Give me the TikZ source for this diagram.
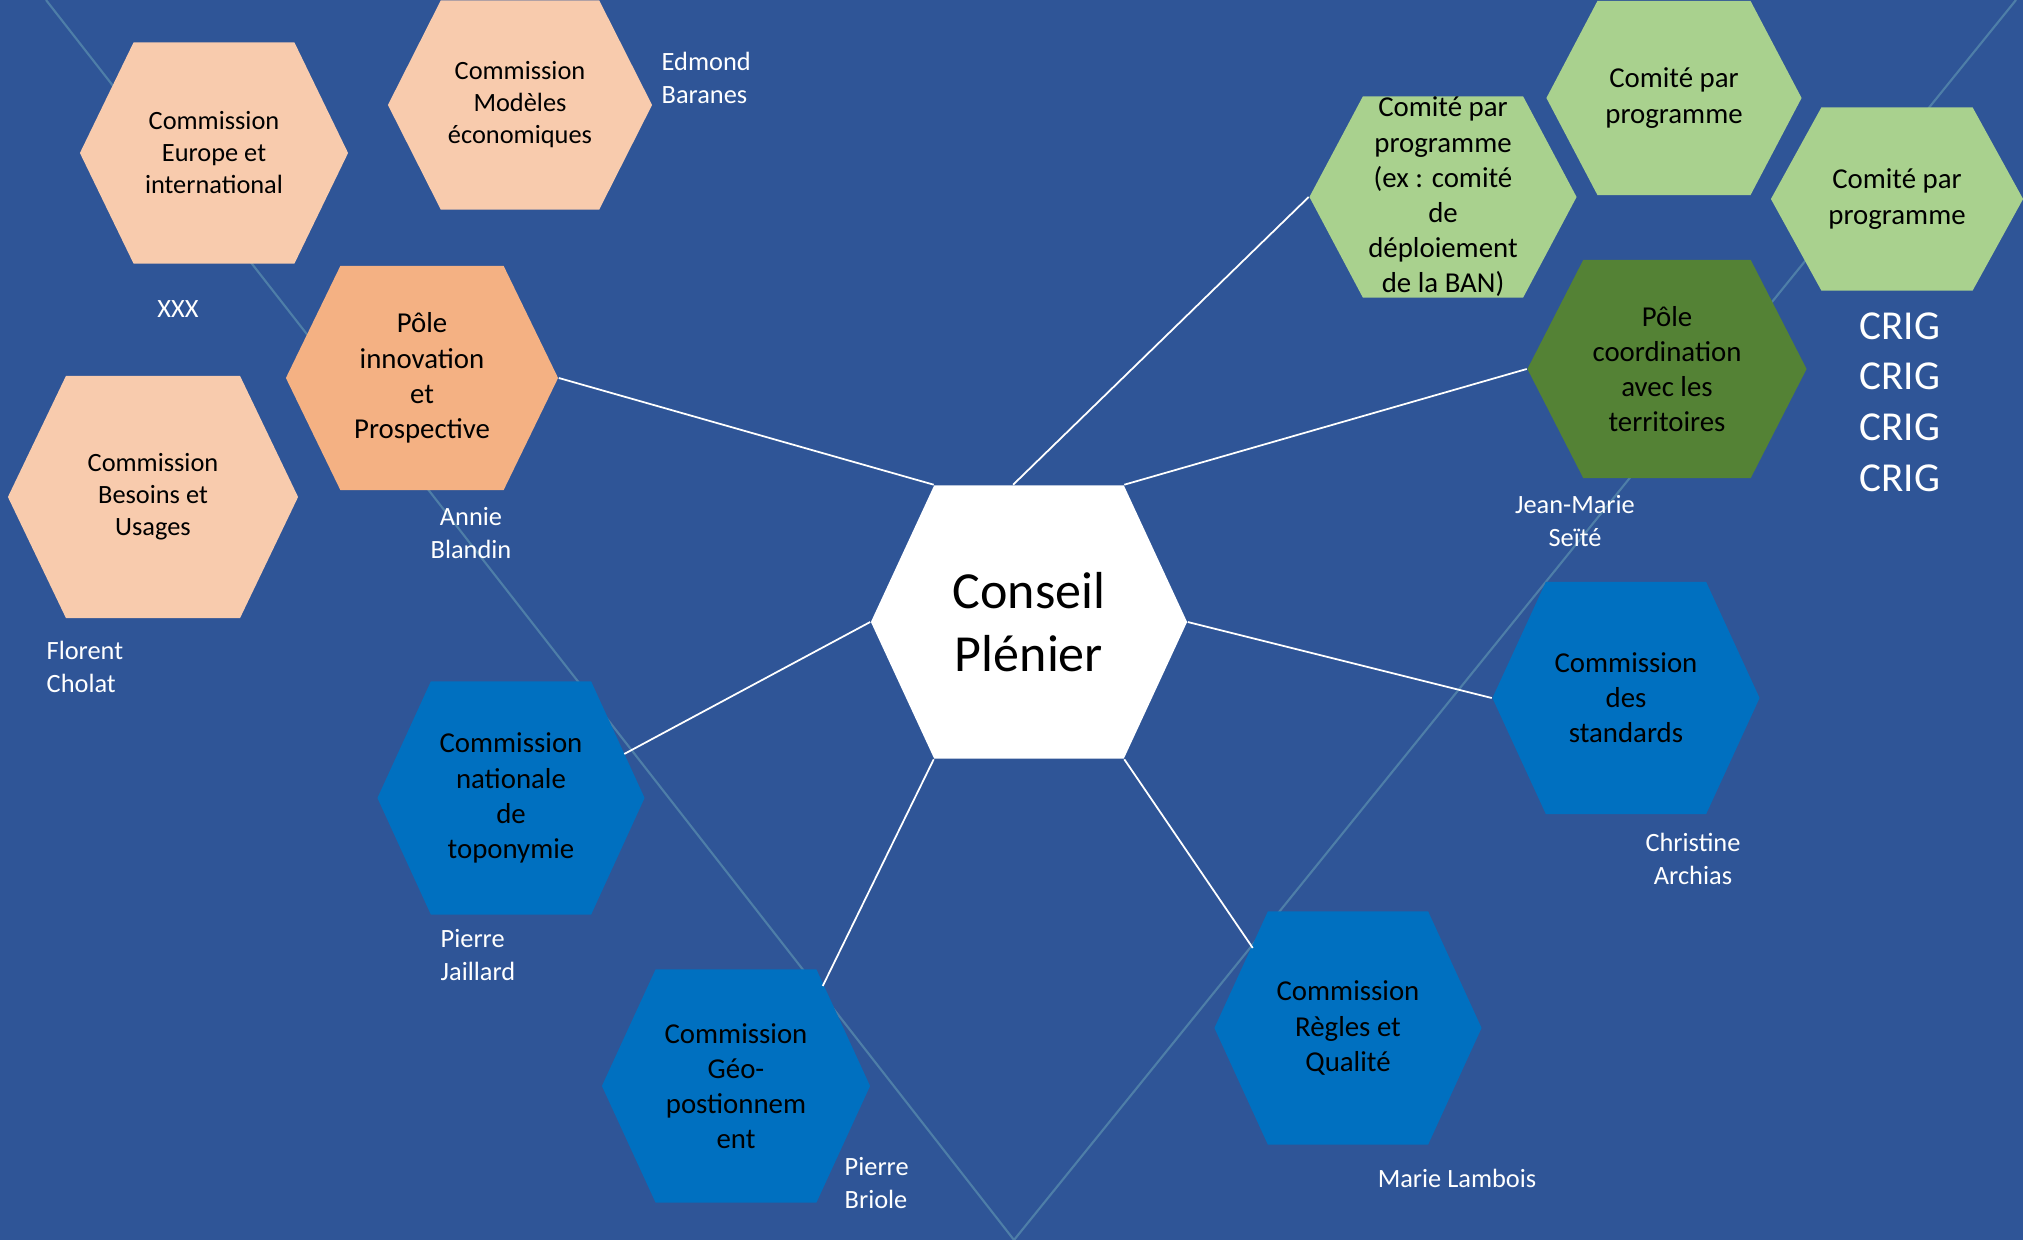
\documentclass[tikz,border=0pt]{standalone}
\usepackage{fontspec}
\setmainfont{Carlito}
\usetikzlibrary{calc}

\definecolor{bg}{RGB}{47,85,151}
\definecolor{guidecol}{RGB}{78,126,168}
\definecolor{peach}{RGB}{248,203,173}
\definecolor{orangepole}{RGB}{244,177,131}
\definecolor{lightgreen}{RGB}{169,209,142}
\definecolor{darkgreen}{RGB}{84,130,53}
\definecolor{bluecom}{RGB}{0,112,192}

\tikzset{
  hexa/.style={rectangle, inner sep=0pt, align=center, text=black,
    font=\fontsize{8.2}{10}\selectfont,
    path picture={\fill[#1] (path picture bounding box.west)
      -- ($(path picture bounding box.north west)!0.2!(path picture bounding box.north east)$)
      -- ($(path picture bounding box.north west)!0.8!(path picture bounding box.north east)$)
      -- (path picture bounding box.east)
      -- ($(path picture bounding box.south west)!0.8!(path picture bounding box.south east)$)
      -- ($(path picture bounding box.south west)!0.2!(path picture bounding box.south east)$)
      -- cycle;}},
  small/.style={font=\fontsize{7.5}{9.1}\selectfont},
  person/.style={text=white, inner sep=0pt, font=\fontsize{7.5}{9.2}\selectfont},
  link/.style={draw=white, line width=0.5pt},
  guide/.style={draw=guidecol, line width=0.6pt},
}

\begin{document}
\begin{tikzpicture}[x=0.01cm, y=-0.01cm]

\useasboundingbox (0,0) rectangle (2023,1240);
\fill[bg] (0,0) rectangle (2023,1240);
\draw[guide] (46,0) -- (1014,1240) -- (2016,0);

% pôle innovation
\node[hexa=peach, small, minimum width=2.68cm, minimum height=2.21cm] (eur) at (214,153) {Commission\\Europe et\\international};
\node[hexa=peach, small, minimum width=2.64cm, minimum height=2.09cm] (mod) at (520,105) {Commission\\Modèles\\économiques};
\node[hexa=orangepole, minimum width=2.72cm, minimum height=2.24cm] (pin) at (422,378) {Pôle\\innovation\\et\\Prospective};
\node[hexa=peach, small, minimum width=2.90cm, minimum height=2.42cm] (bes) at (153,497) {Commission\\Besoins et\\Usages};

% centre
\node[hexa=white, font=\fontsize{14.8}{18}\selectfont, minimum width=3.16cm, minimum height=2.73cm] (conseil) at (1029,622) {Conseil\\Plénier};

% pôle coordination
\node[hexa=lightgreen, minimum width=2.67cm, minimum height=2.01cm] (cex) at (1443,197) {Comité par\\programme\\(ex : comité\\de\\déploiement\\de la BAN)};
\node[hexa=lightgreen, minimum width=2.55cm, minimum height=1.94cm] (cpa) at (1674,98) {Comité par\\programme};
\node[hexa=lightgreen, minimum width=2.52cm, minimum height=1.83cm] (cpb) at (1897,199) {Comité par\\programme};
\node[hexa=darkgreen, minimum width=2.79cm, minimum height=2.18cm] (pco) at (1667,369) {Pôle\\coordination\\avec les\\territoires};

% commissions
\node[hexa=bluecom, minimum width=2.67cm, minimum height=2.32cm] (std) at (1626,698) {Commission\\des\\standards};
\node[hexa=bluecom, minimum width=2.67cm, minimum height=2.33cm] (nat) at (511,798) {Commission\\nationale\\de\\toponymie};
\node[hexa=bluecom, minimum width=2.68cm, minimum height=2.33cm] (geo) at (736,1086) {Commission\\Géo-\\postionnem\\ent};
\node[hexa=bluecom, minimum width=2.67cm, minimum height=2.33cm] (rq) at (1348,1028) {Commission\\Règles et\\Qualité};

% noms
\node[person, anchor=west, align=left] (edmond) at (661,78) {Edmond\\Baranes};
\node[person] (xxx) at (178,309) {XXX};
\node[person, align=center] (annie) at (471,533) {Annie\\Blandin};
\node[person, anchor=west, align=left] (florent) at (46,667) {Florent\\Cholat};
\node[person, anchor=west, align=left] (jaillard) at (440,955) {Pierre\\Jaillard};
\node[person, anchor=west, align=left] (briole) at (844,1183) {Pierre\\Briole};
\node[person, align=center] (seite) at (1575,521) {Jean-Marie\\Seïté};
\node[person, align=center] (archias) at (1693,859) {Christine\\Archias};
\node[person] (lambois) at (1457,1178) {Marie Lambois};
\node[person, align=center, font=\fontsize{11.7}{14.4}\selectfont] (crig) at (1900,402) {CRIG\\CRIG\\CRIG\\CRIG};

\draw[link] (pin.east) -- ($(conseil.north west)!0.2!(conseil.north east)$);
\draw[link] ($(conseil.north west)!0.45!(conseil.north east)$) -- (cex.west);
\draw[link] ($(conseil.north west)!0.8!(conseil.north east)$) -- (pco.west);
\draw[link] (conseil.east) -- (std.west);
\draw[link] ($(conseil.south west)!0.8!(conseil.south east)$) -- ([xshift=0.39cm, yshift=0.8cm]rq.west);
\draw[link] ($(conseil.south west)!0.2!(conseil.south east)$) -- ([xshift=-0.48cm, yshift=1cm]geo.east);
\draw[link] (conseil.west) -- ([xshift=-0.21cm, yshift=0.44cm]nat.east);
\end{tikzpicture}
\end{document}
